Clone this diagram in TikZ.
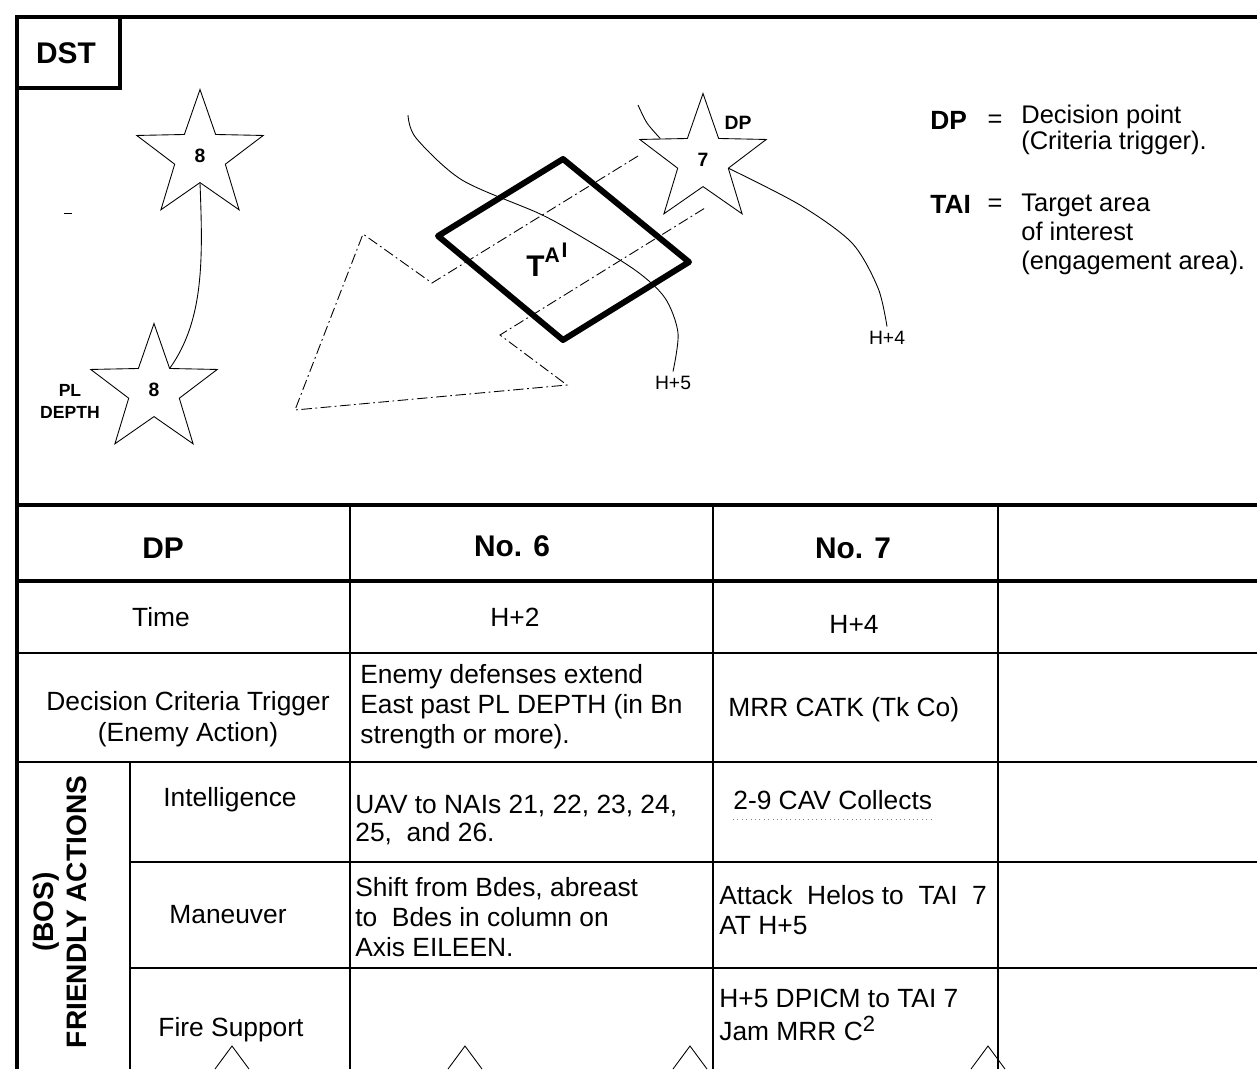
\documentclass[tikz,border=0pt]{standalone}
\usepackage{fontspec}
\setmainfont{Liberation Sans}
\usetikzlibrary{shapes.geometric}
\usetikzlibrary{calc}
\tikzset{
  frame/.style={line width=2.8pt},
  grid/.style={line width=0.6pt},
  route/.style={line width=0.5pt},
  axis/.style={line width=0.5pt, dash pattern=on 6pt off 2pt on 1pt off 2pt},
  tai/.style={line width=3.4pt, line join=round},
  dpstar/.style={star, star points=5, star point ratio=2.5, draw, line width=0.5pt,
    minimum size=2.66cm, inner sep=0pt, font=\fontsize{11}{11}\selectfont\bfseries},
  tag/.style={inner sep=0pt, align=center, font=\fontsize{10}{12.5}\selectfont\bfseries},
  small/.style={inner sep=2.5pt, font=\fontsize{11}{11}\selectfont},
  head/.style={inner sep=0pt, font=\fontsize{17}{19}\selectfont\bfseries},
  legend/.style={inner sep=0pt, align=left, font=\fontsize{14.5}{16.5}\selectfont},
  cell/.style={inner sep=0pt, align=center, font=\fontsize{15}{18}\selectfont},
  celltext/.style={inner sep=0pt, align=left, anchor=west, font=\fontsize{15}{17}\selectfont}
}
\begin{document}
\begin{tikzpicture}[x=0.02cm, y=-0.02cm]
  \useasboundingbox (0,0) rectangle (1257,1069);
  % Draw outer frame and DST box
  \draw[frame] (1257,17) -- (17,17) -- (17,1069);
  \draw[frame] (17,88) -- (120,88) -- (120,17);
  \node[head] (dst) at (66,53) {DST};
  % Decision point stars
  \node[dpstar] (dp8a) at (200,156) {8};
  \node[dpstar] (dp8b) at (154,390) {8};
  \node[dpstar] (dp7) at (703,160) {7};
  \node[tag] (pldepth) at (70,401) {PL\\DEPTH};
  \node[tag, font=\fontsize{11}{11}\selectfont\bfseries] (dp7tag) at (738,123) {DP};
  \draw[route] (dp8a.inner point 3) .. controls (203,260) and (204,320) .. (dp8b.inner point 5);
  \draw[route] (64,213) -- (72,213);
  % Axis of advance (dash dot)
  \draw[axis] (638,156) -- (432,283) -- (363,234) -- (295,410) -- (567,385) -- (500,335) -- (705,208);
  % Target area of interest
  \draw[tai] (563,159) -- (689,262) -- (563,340) -- (438,236) -- cycle;
  \node[inner sep=0pt, font=\fontsize{17}{17}\selectfont\bfseries] (tai) at (547,260)
    {T\raisebox{8pt}{\fontsize{12}{12}\selectfont A}\hspace{1pt}\raisebox{11pt}{\fontsize{12}{12}\selectfont I}};
  % Phase lines with times
  \node[small] (h5) at (673,383) {H+5};
  \node[small] (h4) at (887,338) {H+4};
  \draw[route] plot[smooth] coordinates {(408,115) (416,138) (462,180) (538,213) (575,233)
    (635,270) (665,298) (678,333) (h5.north)};
  \draw[route] plot[smooth] coordinates {(dp7.inner point 4) (800,205) (852,243) (878,288) (h4.north)};
  \draw[route] plot[smooth] coordinates {(638,105) (647,123) ($(dp7.outer point 2)!0.45!(dp7.inner point 1)$)};
  % Legend
  \node[head, font=\fontsize{15}{15}\selectfont\bfseries, anchor=west] (lgdp) at (930,120) {DP};
  \node[legend] (lgeq1) at (995,121) {=};
  \node[legend, font=\fontsize{14.5}{13}\selectfont, anchor=west] (lgdptext) at (1021,130) {Decision point\\(Criteria trigger).};
  \node[head, font=\fontsize{15}{15}\selectfont\bfseries, anchor=west] (lgtai) at (930,204) {TAI};
  \node[legend] (lgeq2) at (995,205) {=};
  \node[legend, anchor=west] (lgtaitext) at (1021,234) {Target area\\of interest\\(engagement area).};
  % Synchronization matrix
  \draw[frame] (17,505) -- (1257,505);
  \draw[frame] (17,581) -- (1257,581);
  \draw[grid] (17,653) -- (1257,653);
  \draw[grid] (17,762) -- (1257,762);
  \draw[grid] (130,862) -- (1257,862);
  \draw[grid] (130,968) -- (1257,968);
  \foreach \cx in {350,713,998}
    \draw[grid] (\cx,505) -- (\cx,1069);
  \draw[grid] (130,762) -- (130,1069);
  % Header row
  \node[head] (hdp) at (163,548) {DP};
  \node[head] (hno6) at (512,546) {No. 6};
  \node[head] (hno7) at (853,548) {No. 7};
  % Time and trigger rows
  \node[cell] (time) at (161,617) {Time};
  \node[cell] (time6) at (515,617) {H+2};
  \node[cell] (time7) at (854,624) {H+4};
  \node[cell] (crit) at (188,719) {Decision Criteria Trigger\\(Enemy Action)};
  \node[celltext] (crit6) at (360,707) {Enemy defenses extend\\East past PL DEPTH (in Bn\\strength or more).};
  \node[celltext] (crit7) at (728,710) {MRR CATK (Tk Co)};
  % Friendly actions by BOS
  \node[cell, rotate=90, font=\fontsize{16}{15.5}\selectfont\bfseries] (bos) at (60,912) {(BOS)\\[3pt]FRIENDLY ACTIONS};
  \node[cell] (intel) at (230,800) {Intelligence};
  \node[celltext, font=\fontsize{15}{15.5}\selectfont] (intel6) at (355,820) {UAV to NAIs 21, 22, 23, 24,\\25,\ \ and 26.};
  \node[celltext] (intel7) at (733,800) {2-9 CAV Collects};
  \draw[gray, dotted, line width=0.5pt] ($(intel7.south west)+(0,9)$) -- ($(intel7.south east)+(0,9)$);
  \node[cell] (man) at (228,915) {Maneuver};
  \node[celltext] (man6) at (355,917) {Shift from Bdes, abreast\\to\ \ Bdes in column on\\Axis EILEEN.};
  \node[celltext] (man7) at (719,910) {Attack\ \ Helos to\ \ TAI\ \ 7\\AT H+5};
  \node[cell] (fire) at (231,1030) {Fire Support};
  \node[celltext, font=\fontsize{15}{18.5}\selectfont] (fire7) at (719,1015) {H+5 DPICM to TAI 7\\Jam MRR C\raisebox{5pt}{\fontsize{12.5}{12.5}\selectfont 2}};
  % Star tips from below
  \foreach \px in {232,465,690,988}
    \draw[route] (\px-17,1069) -- (\px,1046) -- (\px+17,1069);
\end{tikzpicture}
\end{document}
